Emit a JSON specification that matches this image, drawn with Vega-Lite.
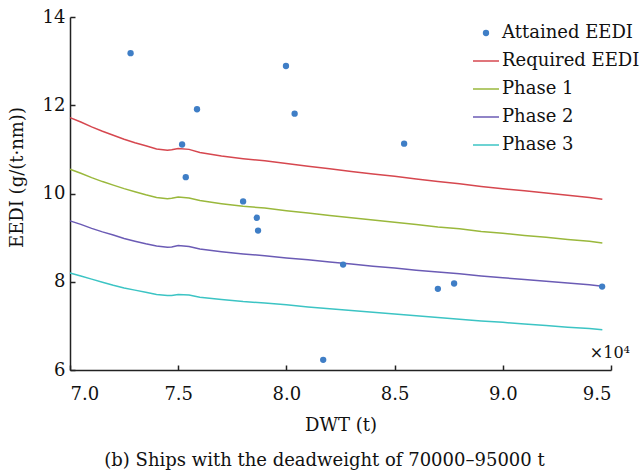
{
  "$schema": "https://vega.github.io/schema/vega-lite/v6.json",
  "width": 541,
  "height": 353,
  "autosize": "none",
  "padding": {"left": 70, "top": 17, "right": 29, "bottom": 102},
  "background": "white",
  "config": {
    "view": {"stroke": null},
    "font": "DejaVu Serif",
    "axis": {
      "grid": false,
      "domainColor": "#222",
      "domainWidth": 1.5,
      "tickColor": "#222",
      "tickWidth": 1.5,
      "tickSize": -5,
      "labelFont": "DejaVu Serif",
      "labelFontSize": 18,
      "labelColor": "#111",
      "titleFont": "DejaVu Serif",
      "titleFontSize": 18,
      "titleFontWeight": "normal",
      "titleColor": "#111"
    },
    "legend": {
      "labelFont": "DejaVu Serif",
      "labelFontSize": 18,
      "labelColor": "#111"
    }
  },
  "title": {
    "text": "(b) Ships with the deadweight of 70000–95000 t",
    "orient": "bottom",
    "anchor": "middle",
    "dx": -16,
    "offset": 18,
    "font": "DejaVu Serif",
    "fontSize": 18,
    "fontWeight": "normal",
    "color": "#111"
  },
  "datasets": {
    "points": [
      {"DWT": 7.28, "EEDI": 13.18, "series": "Attained EEDI"},
      {"DWT": 7.518, "EEDI": 11.11, "series": "Attained EEDI"},
      {"DWT": 7.587, "EEDI": 11.91, "series": "Attained EEDI"},
      {"DWT": 7.535, "EEDI": 10.37, "series": "Attained EEDI"},
      {"DWT": 7.80, "EEDI": 9.82, "series": "Attained EEDI"},
      {"DWT": 7.863, "EEDI": 9.45, "series": "Attained EEDI"},
      {"DWT": 7.869, "EEDI": 9.16, "series": "Attained EEDI"},
      {"DWT": 7.998, "EEDI": 12.89, "series": "Attained EEDI"},
      {"DWT": 8.038, "EEDI": 11.81, "series": "Attained EEDI"},
      {"DWT": 8.544, "EEDI": 11.13, "series": "Attained EEDI"},
      {"DWT": 8.262, "EEDI": 8.39, "series": "Attained EEDI"},
      {"DWT": 8.70, "EEDI": 7.84, "series": "Attained EEDI"},
      {"DWT": 8.775, "EEDI": 7.96, "series": "Attained EEDI"},
      {"DWT": 9.459, "EEDI": 7.89, "series": "Attained EEDI"},
      {"DWT": 8.17, "EEDI": 6.23, "series": "Attained EEDI"}
    ],
    "lines": [
      {"DWT": 7.00, "EEDI": 11.72, "series": "Required EEDI"},
      {"DWT": 7.05, "EEDI": 11.62, "series": "Required EEDI"},
      {"DWT": 7.10, "EEDI": 11.51, "series": "Required EEDI"},
      {"DWT": 7.15, "EEDI": 11.41, "series": "Required EEDI"},
      {"DWT": 7.20, "EEDI": 11.32, "series": "Required EEDI"},
      {"DWT": 7.25, "EEDI": 11.23, "series": "Required EEDI"},
      {"DWT": 7.30, "EEDI": 11.15, "series": "Required EEDI"},
      {"DWT": 7.35, "EEDI": 11.08, "series": "Required EEDI"},
      {"DWT": 7.40, "EEDI": 11.01, "series": "Required EEDI"},
      {"DWT": 7.45, "EEDI": 10.98, "series": "Required EEDI"},
      {"DWT": 7.47, "EEDI": 10.99, "series": "Required EEDI"},
      {"DWT": 7.50, "EEDI": 11.02, "series": "Required EEDI"},
      {"DWT": 7.55, "EEDI": 11.00, "series": "Required EEDI"},
      {"DWT": 7.60, "EEDI": 10.93, "series": "Required EEDI"},
      {"DWT": 7.70, "EEDI": 10.85, "series": "Required EEDI"},
      {"DWT": 7.80, "EEDI": 10.79, "series": "Required EEDI"},
      {"DWT": 7.90, "EEDI": 10.74, "series": "Required EEDI"},
      {"DWT": 8.00, "EEDI": 10.68, "series": "Required EEDI"},
      {"DWT": 8.10, "EEDI": 10.62, "series": "Required EEDI"},
      {"DWT": 8.20, "EEDI": 10.56, "series": "Required EEDI"},
      {"DWT": 8.30, "EEDI": 10.50, "series": "Required EEDI"},
      {"DWT": 8.40, "EEDI": 10.44, "series": "Required EEDI"},
      {"DWT": 8.50, "EEDI": 10.39, "series": "Required EEDI"},
      {"DWT": 8.60, "EEDI": 10.33, "series": "Required EEDI"},
      {"DWT": 8.70, "EEDI": 10.27, "series": "Required EEDI"},
      {"DWT": 8.80, "EEDI": 10.22, "series": "Required EEDI"},
      {"DWT": 8.90, "EEDI": 10.16, "series": "Required EEDI"},
      {"DWT": 9.00, "EEDI": 10.11, "series": "Required EEDI"},
      {"DWT": 9.10, "EEDI": 10.06, "series": "Required EEDI"},
      {"DWT": 9.20, "EEDI": 10.01, "series": "Required EEDI"},
      {"DWT": 9.30, "EEDI": 9.96, "series": "Required EEDI"},
      {"DWT": 9.40, "EEDI": 9.91, "series": "Required EEDI"},
      {"DWT": 9.46, "EEDI": 9.87, "series": "Required EEDI"},

      {"DWT": 7.00, "EEDI": 10.55, "series": "Phase 1"},
      {"DWT": 7.05, "EEDI": 10.46, "series": "Phase 1"},
      {"DWT": 7.10, "EEDI": 10.36, "series": "Phase 1"},
      {"DWT": 7.15, "EEDI": 10.27, "series": "Phase 1"},
      {"DWT": 7.20, "EEDI": 10.19, "series": "Phase 1"},
      {"DWT": 7.25, "EEDI": 10.11, "series": "Phase 1"},
      {"DWT": 7.30, "EEDI": 10.04, "series": "Phase 1"},
      {"DWT": 7.35, "EEDI": 9.97, "series": "Phase 1"},
      {"DWT": 7.40, "EEDI": 9.91, "series": "Phase 1"},
      {"DWT": 7.45, "EEDI": 9.88, "series": "Phase 1"},
      {"DWT": 7.47, "EEDI": 9.89, "series": "Phase 1"},
      {"DWT": 7.50, "EEDI": 9.92, "series": "Phase 1"},
      {"DWT": 7.55, "EEDI": 9.90, "series": "Phase 1"},
      {"DWT": 7.60, "EEDI": 9.84, "series": "Phase 1"},
      {"DWT": 7.70, "EEDI": 9.77, "series": "Phase 1"},
      {"DWT": 7.80, "EEDI": 9.71, "series": "Phase 1"},
      {"DWT": 7.90, "EEDI": 9.67, "series": "Phase 1"},
      {"DWT": 8.00, "EEDI": 9.61, "series": "Phase 1"},
      {"DWT": 8.10, "EEDI": 9.56, "series": "Phase 1"},
      {"DWT": 8.20, "EEDI": 9.50, "series": "Phase 1"},
      {"DWT": 8.30, "EEDI": 9.45, "series": "Phase 1"},
      {"DWT": 8.40, "EEDI": 9.40, "series": "Phase 1"},
      {"DWT": 8.50, "EEDI": 9.35, "series": "Phase 1"},
      {"DWT": 8.60, "EEDI": 9.30, "series": "Phase 1"},
      {"DWT": 8.70, "EEDI": 9.24, "series": "Phase 1"},
      {"DWT": 8.80, "EEDI": 9.20, "series": "Phase 1"},
      {"DWT": 8.90, "EEDI": 9.14, "series": "Phase 1"},
      {"DWT": 9.00, "EEDI": 9.10, "series": "Phase 1"},
      {"DWT": 9.10, "EEDI": 9.05, "series": "Phase 1"},
      {"DWT": 9.20, "EEDI": 9.01, "series": "Phase 1"},
      {"DWT": 9.30, "EEDI": 8.96, "series": "Phase 1"},
      {"DWT": 9.40, "EEDI": 8.92, "series": "Phase 1"},
      {"DWT": 9.46, "EEDI": 8.88, "series": "Phase 1"},

      {"DWT": 7.00, "EEDI": 9.38, "series": "Phase 2"},
      {"DWT": 7.05, "EEDI": 9.30, "series": "Phase 2"},
      {"DWT": 7.10, "EEDI": 9.21, "series": "Phase 2"},
      {"DWT": 7.15, "EEDI": 9.13, "series": "Phase 2"},
      {"DWT": 7.20, "EEDI": 9.06, "series": "Phase 2"},
      {"DWT": 7.25, "EEDI": 8.98, "series": "Phase 2"},
      {"DWT": 7.30, "EEDI": 8.92, "series": "Phase 2"},
      {"DWT": 7.35, "EEDI": 8.86, "series": "Phase 2"},
      {"DWT": 7.40, "EEDI": 8.81, "series": "Phase 2"},
      {"DWT": 7.45, "EEDI": 8.78, "series": "Phase 2"},
      {"DWT": 7.47, "EEDI": 8.79, "series": "Phase 2"},
      {"DWT": 7.50, "EEDI": 8.82, "series": "Phase 2"},
      {"DWT": 7.55, "EEDI": 8.80, "series": "Phase 2"},
      {"DWT": 7.60, "EEDI": 8.74, "series": "Phase 2"},
      {"DWT": 7.70, "EEDI": 8.68, "series": "Phase 2"},
      {"DWT": 7.80, "EEDI": 8.63, "series": "Phase 2"},
      {"DWT": 7.90, "EEDI": 8.59, "series": "Phase 2"},
      {"DWT": 8.00, "EEDI": 8.54, "series": "Phase 2"},
      {"DWT": 8.10, "EEDI": 8.50, "series": "Phase 2"},
      {"DWT": 8.20, "EEDI": 8.45, "series": "Phase 2"},
      {"DWT": 8.30, "EEDI": 8.40, "series": "Phase 2"},
      {"DWT": 8.40, "EEDI": 8.35, "series": "Phase 2"},
      {"DWT": 8.50, "EEDI": 8.31, "series": "Phase 2"},
      {"DWT": 8.60, "EEDI": 8.26, "series": "Phase 2"},
      {"DWT": 8.70, "EEDI": 8.22, "series": "Phase 2"},
      {"DWT": 8.80, "EEDI": 8.18, "series": "Phase 2"},
      {"DWT": 8.90, "EEDI": 8.13, "series": "Phase 2"},
      {"DWT": 9.00, "EEDI": 8.09, "series": "Phase 2"},
      {"DWT": 9.10, "EEDI": 8.05, "series": "Phase 2"},
      {"DWT": 9.20, "EEDI": 8.01, "series": "Phase 2"},
      {"DWT": 9.30, "EEDI": 7.97, "series": "Phase 2"},
      {"DWT": 9.40, "EEDI": 7.93, "series": "Phase 2"},
      {"DWT": 9.46, "EEDI": 7.90, "series": "Phase 2"},

      {"DWT": 7.00, "EEDI": 8.20, "series": "Phase 3"},
      {"DWT": 7.05, "EEDI": 8.13, "series": "Phase 3"},
      {"DWT": 7.10, "EEDI": 8.06, "series": "Phase 3"},
      {"DWT": 7.15, "EEDI": 7.99, "series": "Phase 3"},
      {"DWT": 7.20, "EEDI": 7.92, "series": "Phase 3"},
      {"DWT": 7.25, "EEDI": 7.86, "series": "Phase 3"},
      {"DWT": 7.30, "EEDI": 7.81, "series": "Phase 3"},
      {"DWT": 7.35, "EEDI": 7.76, "series": "Phase 3"},
      {"DWT": 7.40, "EEDI": 7.71, "series": "Phase 3"},
      {"DWT": 7.45, "EEDI": 7.69, "series": "Phase 3"},
      {"DWT": 7.47, "EEDI": 7.69, "series": "Phase 3"},
      {"DWT": 7.50, "EEDI": 7.71, "series": "Phase 3"},
      {"DWT": 7.55, "EEDI": 7.70, "series": "Phase 3"},
      {"DWT": 7.60, "EEDI": 7.65, "series": "Phase 3"},
      {"DWT": 7.70, "EEDI": 7.60, "series": "Phase 3"},
      {"DWT": 7.80, "EEDI": 7.55, "series": "Phase 3"},
      {"DWT": 7.90, "EEDI": 7.52, "series": "Phase 3"},
      {"DWT": 8.00, "EEDI": 7.48, "series": "Phase 3"},
      {"DWT": 8.10, "EEDI": 7.43, "series": "Phase 3"},
      {"DWT": 8.20, "EEDI": 7.39, "series": "Phase 3"},
      {"DWT": 8.30, "EEDI": 7.35, "series": "Phase 3"},
      {"DWT": 8.40, "EEDI": 7.31, "series": "Phase 3"},
      {"DWT": 8.50, "EEDI": 7.27, "series": "Phase 3"},
      {"DWT": 8.60, "EEDI": 7.23, "series": "Phase 3"},
      {"DWT": 8.70, "EEDI": 7.19, "series": "Phase 3"},
      {"DWT": 8.80, "EEDI": 7.15, "series": "Phase 3"},
      {"DWT": 8.90, "EEDI": 7.11, "series": "Phase 3"},
      {"DWT": 9.00, "EEDI": 7.08, "series": "Phase 3"},
      {"DWT": 9.10, "EEDI": 7.04, "series": "Phase 3"},
      {"DWT": 9.20, "EEDI": 7.01, "series": "Phase 3"},
      {"DWT": 9.30, "EEDI": 6.97, "series": "Phase 3"},
      {"DWT": 9.40, "EEDI": 6.94, "series": "Phase 3"},
      {"DWT": 9.46, "EEDI": 6.91, "series": "Phase 3"}
    ],
    "note": [{"label": "×10⁴"}]
  },
  "layer": [
    {
      "data": {"name": "lines"},
      "mark": {"type": "line", "strokeWidth": 1.5, "clip": false},
      "encoding": {
        "x": {
          "field": "DWT", "type": "quantitative",
          "scale": {"domain": [7, 9.5], "nice": false, "zero": false},
          "axis": {"values": [7, 7.5, 8, 8.5, 9, 9.5], "format": ".1f", "title": "DWT (t)", "labelPadding": 20, "titleBaseline": "alphabetic", "titleY": 60}
        },
        "y": {
          "field": "EEDI", "type": "quantitative",
          "scale": {"domain": [6, 14], "nice": false, "zero": false},
          "axis": {"values": [6, 8, 10, 12, 14], "title": "EEDI (g/(t·nm))", "labelPadding": 10, "titleAngle": -90, "titleX": -53, "titleY": 160, "titleAlign": "center", "titleBaseline": "middle"}
        },
        "color": {
          "field": "series", "type": "nominal",
          "scale": {
            "domain": ["Attained EEDI", "Required EEDI", "Phase 1", "Phase 2", "Phase 3"],
            "range": ["#3f7ec6", "#d6474f", "#9ab83c", "#6b5bb5", "#3cc4c4"]
          },
          "legend": {
            "title": null,
            "orient": "none",
            "legendX": 407,
            "legendY": 7,
            "padding": 0,
            "rowPadding": 10,
            "labelOffset": 7,
            "symbolType": "stroke",
            "symbolSize": 676,
            "symbolStrokeWidth": 1.5,
            "encode": {
              "symbols": {
                "update": {
                  "shape": {"signal": "datum.value === 'Attained EEDI' ? 'circle' : 'stroke'"},
                  "size": {"signal": "datum.value === 'Attained EEDI' ? 40 : 676"},
                  "fill": {"signal": "datum.value === 'Attained EEDI' ? scale('color', datum.value) : 'transparent'"},
                  "stroke": {"signal": "scale('color', datum.value)"},
                  "strokeWidth": {"signal": "datum.value === 'Attained EEDI' ? 0 : 1.5"},
                  "opacity": {"value": 1}
                }
              }
            }
          }
        }
      }
    },
    {
      "data": {"name": "points"},
      "mark": {"type": "circle", "size": 40, "opacity": 1, "clip": false},
      "encoding": {
        "x": {"field": "DWT", "type": "quantitative"},
        "y": {"field": "EEDI", "type": "quantitative"},
        "color": {"field": "series", "type": "nominal"}
      }
    },
    {
      "data": {"name": "note"},
      "mark": {"type": "text", "align": "right", "baseline": "middle", "dx": 19, "font": "DejaVu Serif", "fontSize": 16, "color": "#111"},
      "encoding": {
        "x": {"datum": 9.5, "type": "quantitative"},
        "y": {"datum": 6.38, "type": "quantitative"},
        "text": {"field": "label", "type": "nominal"}
      }
    }
  ]
}
